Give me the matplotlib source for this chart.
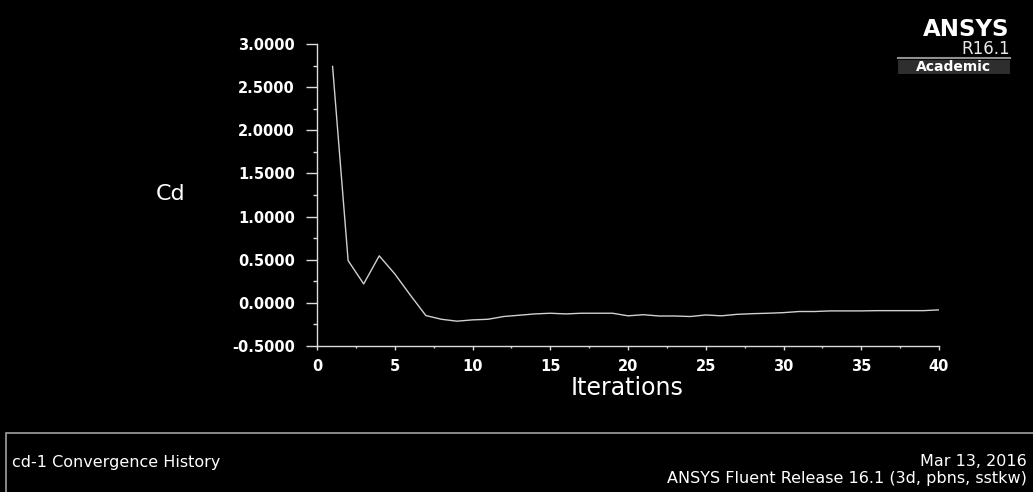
import matplotlib
matplotlib.use("Agg")
import matplotlib.pyplot as plt
from matplotlib.patches import Rectangle
from matplotlib.ticker import MultipleLocator, FormatStrFormatter

# cd-1 convergence history
iterations = list(range(1, 41))
cd = [2.74, 0.49, 0.22, 0.545, 0.336, 0.09, -0.147, -0.19, -0.212, -0.197,
      -0.19, -0.158, -0.143, -0.128, -0.12, -0.128, -0.12, -0.12, -0.12, -0.15,
      -0.137, -0.152, -0.152, -0.158, -0.14, -0.15, -0.133, -0.125, -0.12, -0.113,
      -0.1, -0.1, -0.093, -0.093, -0.093, -0.09, -0.09, -0.09, -0.09, -0.081]

fg = "#dcdcdc"
# the screenshot's text is wide, DejaVu Sans is the widest installed sans
plt.rcParams['font.family'] = ['DejaVu Sans']

fig = plt.figure(figsize=(10.33, 4.92), dpi=100, facecolor="black")
ax = fig.add_axes([0.3069, 0.2967, 0.6021, 0.6138], facecolor="black")

ax.plot(iterations, cd, color="#d0d0d0", lw=1.0)
ax.set_xlim(0, 40)
ax.set_ylim(-0.5, 3.0)

for s in ["top", "right"]:
    ax.spines[s].set_visible(False)
for s in ["left", "bottom"]:
    ax.spines[s].set_color(fg)
    ax.spines[s].set_linewidth(1.0)

ax.xaxis.set_major_locator(MultipleLocator(5))
ax.xaxis.set_minor_locator(MultipleLocator(2.5))
ax.yaxis.set_major_locator(MultipleLocator(0.5))
ax.yaxis.set_minor_locator(MultipleLocator(0.25))
ax.yaxis.set_major_formatter(FormatStrFormatter("%.4f"))

ax.tick_params(axis="y", which="major", length=8, width=1, color=fg, pad=8,
               labelcolor="white", labelsize=10.5)
ax.tick_params(axis="y", which="minor", length=3, width=1, color=fg)
ax.tick_params(axis="x", which="major", length=3, width=1, color=fg, pad=6,
               labelcolor="white", labelsize=10.5)
ax.tick_params(axis="x", which="minor", length=1.5, width=1, color=fg)
for lab in ax.get_xticklabels() + ax.get_yticklabels():
    lab.set_fontweight("bold")

fig.text(627 / 1033, 1 - 388 / 492, "Iterations", color="white", fontsize=17,
         ha="center", va="center")
fig.text(171 / 1033, 1 - 194 / 492, "Cd", color="white", fontsize=16,
         ha="center", va="center")

# ANSYS logo
fig.text(1009 / 1033, 1 - 30 / 492, "ANSYS", color="white", fontsize=16.5,
         fontweight="bold", ha="right", va="center")
fig.text(1010 / 1033, 1 - 49 / 492, "R16.1", color="#e8e8e8", fontsize=12,
         ha="right", va="center")
fig.add_artist(plt.Line2D([898 / 1033, 1010 / 1033], [1 - 58 / 492, 1 - 58 / 492],
                          color="#909090", lw=1.5))
fig.add_artist(Rectangle((898 / 1033, 1 - 74 / 492), 112 / 1033, 14 / 492,
                         facecolor="#2e2e2e", edgecolor="none"))
fig.text(953 / 1033, 1 - 67 / 492, "Academic", color="white", fontsize=10,
         fontweight="bold", ha="center", va="center")

# footer box
fig.add_artist(Rectangle((6 / 1033, -0.05), 1.1, (1 - 433 / 492) + 0.05,
                         facecolor="black", edgecolor="#a0a0a0", lw=1.2))
fig.text(12 / 1033, 1 - 462 / 492, "cd-1 Convergence History", color="white",
         fontsize=11.5, ha="left", va="center")
fig.text(1027 / 1033, 1 - 461 / 492, "Mar 13, 2016", color="white",
         fontsize=11.5, ha="right", va="center")
fig.text(1027 / 1033, 1 - 479 / 492, "ANSYS Fluent Release 16.1 (3d, pbns, sstkw)",
         color="white", fontsize=11.5, ha="right", va="center")

fig.savefig("out.png", dpi=100, facecolor="black")
